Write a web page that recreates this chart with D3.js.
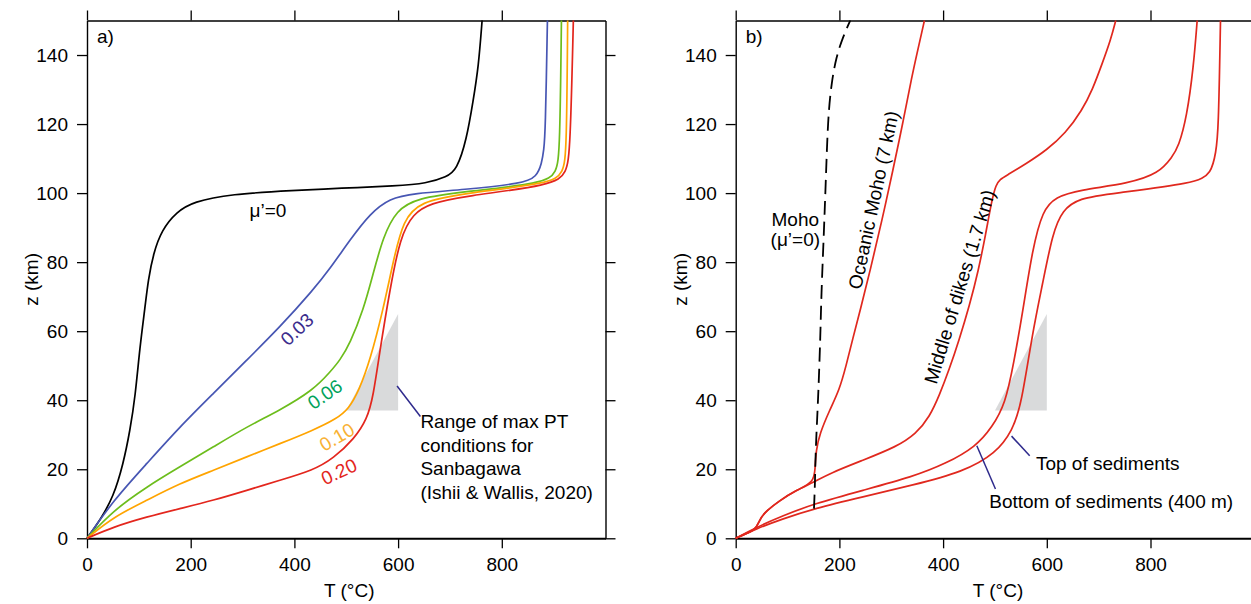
<!DOCTYPE html>
<html>
<head>
<meta charset="utf-8">
<script src="https://cdn.jsdelivr.net/npm/d3@7"></script>
<style>
  html, body { margin: 0; padding: 0; background: #fff; }
  svg { display: block; font-family: "Liberation Sans", Arial, Helvetica, sans-serif; }
</style>
</head>
<body>
<svg id="chart" width="1251" height="604"></svg>
<script>
// ---------- data ----------
const xTicks = [0, 200, 400, 600, 800];
const zTicks = [0, 20, 40, 60, 80, 100, 120, 140];

// Panel a: geotherms for different friction coefficients (T in °C, z in km)
const mu000T = [0, 25, 51, 70, 83, 93, 102, 112, 118, 128, 144, 173, 205, 276, 400, 488, 597, 655, 694, 713, 732, 745, 755, 762];
const mu000Z = [0, 5.2, 12, 21.6, 31.3, 41, 55.5, 67, 74.8, 82.5, 89.3, 94.6, 97.5, 99.7, 100.8, 101.4, 102.1, 102.8, 104.7, 106.7, 115.4, 127, 136.5, 150];
const mu003T = [0, 51, 115, 179, 244, 308, 372, 436, 469, 507, 546, 584, 629, 726, 841, 867, 877, 881, 884, 888];
const mu003Z = [0, 11, 21.6, 32.3, 42, 51.6, 61.2, 71.9, 78.2, 86.4, 94.1, 98.5, 99.9, 101, 102.8, 104.7, 108.6, 112.5, 117.3, 150];
const mu006T = [0, 51, 115, 179, 244, 308, 372, 436, 469, 488, 507, 533, 552, 571, 597, 636, 726, 880, 906, 912, 915];
const mu006Z = [0, 8.1, 14.9, 20.7, 26.5, 32.3, 37.1, 42.9, 48.2, 51.6, 56.4, 66.1, 76.7, 87.3, 95.1, 98.5, 100.4, 102.8, 105.7, 112.5, 150];
const mu010T = [0, 51, 115, 179, 244, 308, 372, 436, 480, 505, 525, 546, 571, 591, 610, 642, 726, 893, 919, 925, 927];
const mu010Z = [0, 6.2, 11, 15.9, 19.7, 23.6, 27.4, 31.3, 34.5, 37.5, 43, 51.6, 66.1, 80.6, 92.2, 97.5, 99.9, 102.8, 105.7, 112.5, 150];
const mu020T = [0, 51, 115, 179, 244, 308, 372, 436, 475, 516, 540, 552, 565, 584, 604, 629, 662, 726, 899, 925, 932, 938];
const mu020Z = [0, 3.3, 6.2, 8.6, 11, 13.9, 16.8, 19.7, 23.1, 28.9, 34.5, 41, 54.5, 71.9, 87.3, 94.1, 97, 99.1, 102.3, 105.7, 112.5, 150];

// Panel b: temperatures at several depths in the slab
const mohoDashT = [151, 153, 154, 159, 163.5, 165, 170, 173.6, 178, 184.6, 194, 207, 221];
const mohoDashZ = [8.6, 16, 25.5, 40, 59.3, 70, 88.3, 102.8, 122, 131.8, 139.5, 145.3, 150];
const oceanicMohoT = [0, 20, 38, 45, 53, 85, 117, 151, 153, 155, 162, 181, 200, 213, 226, 240, 260, 282, 303, 322, 340, 352, 364];
const oceanicMohoZ = [0, 1.3, 2.6, 4.8, 7.2, 11, 13.9, 16.3, 20, 25.5, 30.3, 37.1, 43, 50, 58, 66, 78, 92, 106.5, 120, 134, 142, 150];
const dikesT = [0, 20, 38, 45, 53, 85, 117, 151, 181, 245, 310, 348, 374, 393, 412, 431, 451, 468, 482, 494, 502, 510, 521, 560, 600, 636, 668, 688, 707, 723, 733];
const dikesZ = [0, 1.3, 2.6, 4.8, 7.2, 11, 13.9, 16.3, 18.8, 22.6, 26.5, 30.3, 35.2, 41.5, 49, 57.5, 67.5, 77.5, 88, 98, 102.5, 104, 105, 108.5, 112.5, 117.3, 124, 129.9, 137.6, 144.3, 150];
const sedBottomT = [0, 40, 90, 151, 245, 341, 405, 463, 495, 520, 536, 554, 572, 592, 617, 662, 758, 816, 842, 854, 870, 883, 890];
const sedBottomZ = [0, 3.2, 6.5, 10, 13.9, 17.8, 21.6, 26.5, 32.3, 39, 50.5, 66, 83.5, 95.1, 98.9, 100.9, 102.8, 105.7, 110.5, 113.4, 122, 136.6, 150];
const sedTopT = [0, 40, 90, 151, 245, 341.5, 438, 502, 534, 551, 572, 592, 611, 630, 662, 726, 886, 918, 926, 931, 935];
const sedTopZ = [0, 2.8, 5.6, 8.6, 12, 15.4, 19.2, 24.6, 31.3, 38.8, 59.3, 73.8, 88.3, 95.1, 98.5, 99.9, 102.8, 105.7, 112, 117.3, 150];

// Range of max PT conditions for Sanbagawa (Ishii & Wallis, 2020)
const sanbagawaT = [500, 600, 600];
const sanbagawaZ = [37, 37, 65];

// ---------- drawing ----------
const svg = d3.select("#chart");
const FONT = 19;
const yScale = d3.scaleLinear().domain([0, 150]).range([538.3, 20.5]);

function makePanel(left, opts) {
  const x = d3.scaleLinear().domain([0, 1000]).range([left, left + 518.5]);
  const y = yScale;
  const g = svg.append("g");
  const line = d3.line().x(d => x(d[0])).y(d => y(d[1])).curve(d3.curveBasis);

  const styleAxis = sel => {
    sel.selectAll("path.domain").attr("stroke", "#000").attr("stroke-width", 1.4);
    sel.selectAll(".tick line").attr("stroke", "#000").attr("stroke-width", 1.3);
    sel.selectAll("text").attr("font-size", FONT).attr("fill", "#000")
      .attr("font-family", '"Liberation Sans", Arial, Helvetica, sans-serif');
  };
  g.append("g").attr("transform", `translate(0,${y(150)})`)
    .call(d3.axisTop(x).tickValues(xTicks).tickSize(10).tickSizeOuter(0).tickFormat(""))
    .call(styleAxis);
  g.append("g").attr("transform", `translate(${x(0)},0)`)
    .call(d3.axisLeft(y).tickValues(zTicks).tickSize(10).tickSizeOuter(0).tickPadding(9))
    .call(styleAxis);
  if (opts.right) {
    g.append("g").attr("transform", `translate(${x(1000)},0)`)
      .call(d3.axisRight(y).tickValues(zTicks).tickSize(10).tickSizeOuter(0).tickFormat(""))
      .call(styleAxis);
  }
  const bx = g.append("g").attr("transform", `translate(0,${y(0)})`)
    .call(d3.axisBottom(x).tickValues(xTicks).tickSize(10).tickSizeOuter(0).tickPadding(9))
    .call(styleAxis);
  bx.selectAll("path.domain").attr("stroke-width", 2);

  g.append("text").attr("x", (x(0) + x(1000)) / 2 + 3).attr("y", 597)
    .attr("text-anchor", "middle").attr("font-size", FONT).text("T (°C)");
  g.append("text").attr("transform", `translate(${x(0) - 49},${(y(0) + y(150)) / 2}) rotate(-90)`)
    .attr("text-anchor", "middle").attr("font-size", FONT).text("z (km)");

  g.append("text").attr("x", x(0) + 10).attr("y", 43).attr("font-size", FONT).text(opts.letter);

  g.append("path")
    .attr("d", d3.line().x(d => x(d[0])).y(d => y(d[1]))(d3.zip(sanbagawaT, sanbagawaZ)) + "Z")
    .attr("fill", "#d9dadb").attr("stroke", "none");

  return { g, x, y, line };
}

// ----- panel a -----
const A = makePanel(87, { letter: "a)", right: true });
const seriesA = [
  { T: mu000T, Z: mu000Z, color: "#000000" },
  { T: mu003T, Z: mu003Z, color: "#4756b3" },
  { T: mu006T, Z: mu006Z, color: "#6cbd1c" },
  { T: mu010T, Z: mu010Z, color: "#ffa400" },
  { T: mu020T, Z: mu020Z, color: "#e3261d" }
];
seriesA.forEach(s => {
  A.g.append("path").attr("d", A.line(d3.zip(s.T, s.Z)))
    .attr("fill", "none").attr("stroke", s.color).attr("stroke-width", 1.7);
});

function rotLabel(P, T, z, angle, text, color) {
  P.g.append("text")
    .attr("transform", `translate(${P.x(T)},${P.y(z)}) rotate(${angle})`)
    .attr("text-anchor", "middle").attr("dominant-baseline", "central")
    .attr("font-size", FONT).attr("fill", color).text(text);
}
rotLabel(A, 349, 95.0, 0, "μ’=0", "#000");
rotLabel(A, 405, 60.5, -43, "0.03", "#3b2c8d");
rotLabel(A, 459, 41.7, -35, "0.06", "#00a25b");
rotLabel(A, 482, 29.3, -30, "0.10", "#f8b133");
rotLabel(A, 486, 19.3, -25, "0.20", "#e3261d");

A.g.append("line").attr("x1", A.x(598)).attr("y1", A.y(44.1)).attr("x2", A.x(643)).attr("y2", A.y(35.3))
  .attr("stroke", "#2e2a8c").attr("stroke-width", 1.5);
const annA = ["Range of max PT", "conditions for", "Sanbagawa", "(Ishii & Wallis, 2020)"];
annA.forEach((t, i) => {
  A.g.append("text").attr("x", A.x(643)).attr("y", 428 + i * 23.5)
    .attr("font-size", FONT).text(t);
});

// ----- panel b -----
const B = makePanel(735.7, { letter: "b)", right: false });
[
  { T: oceanicMohoT, Z: oceanicMohoZ },
  { T: dikesT, Z: dikesZ },
  { T: sedBottomT, Z: sedBottomZ },
  { T: sedTopT, Z: sedTopZ }
].forEach(s => {
  B.g.append("path").attr("d", B.line(d3.zip(s.T, s.Z)))
    .attr("fill", "none").attr("stroke", "#e0281e").attr("stroke-width", 1.7);
});
B.g.append("path").attr("d", B.line(d3.zip(mohoDashT, mohoDashZ)))
  .attr("fill", "none").attr("stroke", "#000").attr("stroke-width", 1.8)
  .attr("stroke-dasharray", "14,7");

B.g.append("text").attr("x", B.x(115)).attr("y", 226).attr("text-anchor", "middle").attr("font-size", FONT).text("Moho");
B.g.append("text").attr("x", B.x(115)).attr("y", 246).attr("text-anchor", "middle").attr("font-size", FONT).text("(μ’=0)");
rotLabel(B, 266, 98.0, -78, "Oceanic Moho (7 km)", "#000");
rotLabel(B, 432, 72.9, -73, "Middle of dikes (1.7 km)", "#000");

B.g.append("line").attr("x1", B.x(532)).attr("y1", B.y(29.6)).attr("x2", B.x(567)).attr("y2", B.y(23.9))
  .attr("stroke", "#2e2a8c").attr("stroke-width", 1.5);
B.g.append("line").attr("x1", B.x(465)).attr("y1", B.y(26.8)).attr("x2", B.x(501)).attr("y2", B.y(14.3))
  .attr("stroke", "#2e2a8c").attr("stroke-width", 1.5);
B.g.append("text").attr("x", B.x(579)).attr("y", 470).attr("font-size", FONT).text("Top of sediments");
B.g.append("text").attr("x", B.x(489)).attr("y", 508).attr("font-size", FONT).text("Bottom of sediments (400 m)");
</script>
</body>
</html>
